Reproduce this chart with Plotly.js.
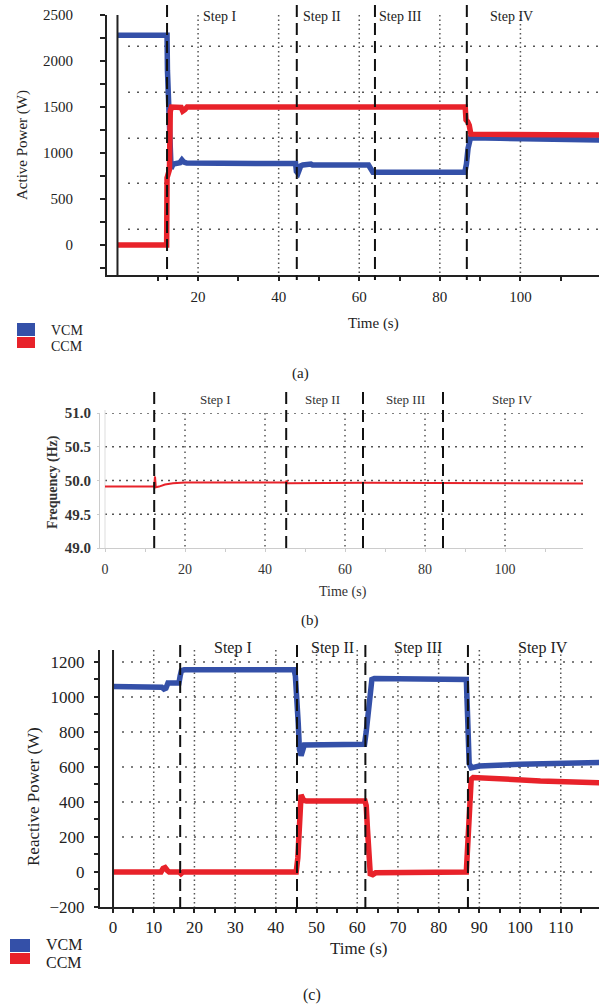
<!DOCTYPE html>
<html>
<head>
<meta charset="utf-8">
<script src="https://cdn.plot.ly/plotly-3.0.1.min.js"></script>
<style>html,body{margin:0;padding:0;background:#fff;}#chart{width:599px;height:1005px;}</style>
</head>
<body>
<div id="chart"></div>
<script>
// ---------- (a) Active power ----------
const aVcmTime = [0, 12.3, 12.4, 12.6, 12.8, 13.0, 13.3, 13.8, 15.5, 16.0, 16.5, 17.2, 44.2, 44.4, 44.8, 45.5, 46.0, 48.0, 48.4, 62.3, 62.8, 63.4, 86.2, 86.6, 87.0, 87.6, 95, 108, 120];
const aVcm     = [2280, 2280, 1900, 1600, 1200, 850, 830, 880, 895, 925, 900, 890, 885, 800, 780, 860, 870, 880, 870, 870, 820, 790, 790, 880, 1050, 1165, 1160, 1145, 1140];
const aCcmTime = [0, 12.2, 12.3, 12.6, 12.9, 13.1, 13.4, 15.8, 16.2, 16.7, 17.3, 86.3, 86.5, 86.9, 87.3, 87.7, 120];
const aCcm     = [0, 0, 730, 760, 820, 1450, 1500, 1495, 1455, 1470, 1500, 1500, 1360, 1340, 1300, 1205, 1195];
const aSteps   = [12.3, 44.5, 63.9, 86.7];
const aStepLabelX = [25.2, 50.7, 70.3, 97.9];
const aGridY   = [2160, 1660, 1160, 670, 170];
const aGridX   = [20, 40, 60, 80, 100];
const aTickY   = [0, 500, 1000, 1500, 2000, 2500];
const aTickX   = [20, 40, 60, 80, 100];

// ---------- (b) Frequency ----------
const bTime = [0, 12.3, 12.5, 12.7, 13.5, 15, 17, 20, 25, 45.2, 45.4, 45.6, 65, 85, 100, 119.5];
const bFreq = [49.91, 49.91, 50.06, 49.9, 49.91, 49.94, 49.96, 49.97, 49.97, 49.97, 50.0, 49.96, 49.965, 49.96, 49.955, 49.955];
const bSteps = [12.3, 45.3, 64.5, 84.5];
const bStepLabelX = [27.5, 54.3, 75.0, 101.8];
const bGridY = [49.5, 50.0, 50.5, 51.0];
const bGridX = [20, 40, 60, 80, 100];
const bTickY = [49.0, 49.5, 50.0, 50.5, 51.0];
const bTickX = [0, 20, 40, 60, 80, 100];

// ---------- (c) Reactive power ----------
const cVcmTime = [0, 11.5, 12, 12.5, 13, 13.5, 16.2, 16.5, 16.8, 17.5, 44.5, 44.8, 45.2, 45.5, 45.8, 46.2, 47, 61.8, 62.2, 62.6, 63.2, 63.6, 64.2, 86.8, 87.1, 87.5, 88, 90, 100, 110, 120];
const cVcm     = [1060, 1060, 1055, 1045, 1050, 1080, 1080, 1120, 1150, 1155, 1155, 1120, 1000, 850, 700, 665, 725, 730, 800, 890, 950, 1100, 1105, 1100, 900, 620, 595, 605, 615, 622, 625];
const cCcmTime = [0, 11.8, 12.3, 12.8, 13.3, 13.8, 16.3, 16.7, 17.2, 45.0, 45.4, 45.8, 46.2, 46.8, 47.5, 61.9, 62.2, 62.5, 62.8, 63.2, 63.8, 64.5, 86.8, 87.2, 87.6, 88.0, 88.5, 95, 105, 120];
const cCcm     = [0, 0, 20, 25, 10, 0, 0, -10, 0, 0, 80, 250, 440, 410, 405, 405, 380, 250, 80, -10, -15, -5, 0, 150, 400, 530, 540, 530, 520, 510];
const cSteps   = [16.5, 45.2, 62.0, 87.2];
const cStepLabelX = [29.5, 53.8, 74.9, 105.7];
const cGridY   = [0, 200, 400, 600, 800, 1000, 1200];
const cGridX   = [10, 20, 30, 40, 50, 60, 70, 80, 90, 100, 110];
const cTickY   = [-200, 0, 200, 400, 600, 800, 1000, 1200];
const cTickX   = [0, 10, 20, 30, 40, 50, 60, 70, 80, 90, 100, 110];

const stepNames = ['Step I', 'Step II', 'Step III', 'Step IV'];
const seriesNames = ['VCM', 'CCM'];

const BLUE = '#3450a8';
const RED = '#e8222a';
const FONT = '"Liberation Serif", "Times New Roman", serif';
const W = 599, H = 1005;
const px = p => p / W;
const py = p => 1 - p / H;

const traces = [
  {x: aVcmTime, y: aVcm, xaxis: 'x', yaxis: 'y', mode: 'lines', line: {color: BLUE, width: 5.5}, name: 'VCM'},
  {x: aCcmTime, y: aCcm, xaxis: 'x', yaxis: 'y', mode: 'lines', line: {color: RED, width: 5.5}, name: 'CCM'},
  {x: bTime, y: bFreq, xaxis: 'x2', yaxis: 'y2', mode: 'lines', line: {color: RED, width: 2}, name: 'f'},
  {x: cVcmTime, y: cVcm, xaxis: 'x3', yaxis: 'y3', mode: 'lines', line: {color: BLUE, width: 5.5}, name: 'VCM'},
  {x: cCcmTime, y: cCcm, xaxis: 'x3', yaxis: 'y3', mode: 'lines', line: {color: RED, width: 5.5}, name: 'CCM'}
];

const shapes = [];
const annotations = [];
const dotH = {color: '#555', width: 1.5, dash: '2px,7px'};
const dotV = {color: '#555', width: 1.5, dash: '1.5px,3px'};
const dashStep = {color: '#111', width: 2, dash: '12px,6px'};

// (a) grid
aGridY.forEach(v => shapes.push({type: 'line', xref: 'paper', yref: 'y', x0: px(128), x1: 1, y0: v, y1: v, line: dotH, layer: 'below'}));
aGridX.forEach(v => shapes.push({type: 'line', xref: 'x', yref: 'paper', x0: v, x1: v, y0: py(15), y1: py(275), line: dotV, layer: 'below'}));
shapes.push({type: 'line', xref: 'x', yref: 'paper', x0: 0, x1: 0, y0: py(15), y1: py(275), line: {color: '#222', width: 2}});
aSteps.forEach(v => shapes.push({type: 'line', xref: 'x', yref: 'paper', x0: v, x1: v, y0: py(5), y1: py(280), line: dashStep}));
stepNames.forEach((s, i) => annotations.push({xref: 'x', yref: 'paper', x: aStepLabelX[i], y: py(17), text: s, showarrow: false, font: {family: FONT, size: 14, color: '#222'}, xanchor: 'center', yanchor: 'middle'}));

// (b) grid
bGridY.forEach(v => shapes.push({type: 'line', xref: 'paper', yref: 'y2', x0: px(105), x1: px(583), y0: v, y1: v, line: {color: '#555', width: 1.5, dash: '2px,5px'}, layer: 'below'}));
bGridX.forEach(v => shapes.push({type: 'line', xref: 'x2', yref: 'paper', x0: v, x1: v, y0: py(413), y1: py(548), line: {color: '#555', width: 1.5, dash: '1.5px,4px'}, layer: 'below'}));
shapes.push({type: 'line', xref: 'x2', yref: 'paper', x0: 0, x1: 0, y0: py(410), y1: py(548), line: {color: '#ddd', width: 1}, layer: 'below'});
bSteps.forEach(v => shapes.push({type: 'line', xref: 'x2', yref: 'paper', x0: v, x1: v, y0: py(392), y1: py(554), line: dashStep}));
stepNames.forEach((s, i) => annotations.push({xref: 'x2', yref: 'paper', x: bStepLabelX[i], y: py(400), text: s, showarrow: false, font: {family: FONT, size: 13, color: '#333'}, xanchor: 'center', yanchor: 'middle'}));

// (c) grid
cGridY.forEach(v => shapes.push({type: 'line', xref: 'paper', yref: 'y3', x0: px(122), x1: 1, y0: v, y1: v, line: {color: '#555', width: 1.5, dash: '2px,7px'}, layer: 'below'}));
cGridX.forEach(v => shapes.push({type: 'line', xref: 'x3', yref: 'paper', x0: v, x1: v, y0: py(650), y1: py(907), line: dotV, layer: 'below'}));
shapes.push({type: 'line', xref: 'x3', yref: 'paper', x0: 0, x1: 0, y0: py(650), y1: py(907), line: {color: '#222', width: 2}});
cSteps.forEach(v => shapes.push({type: 'line', xref: 'x3', yref: 'paper', x0: v, x1: v, y0: py(645), y1: py(915), line: dashStep}));
stepNames.forEach((s, i) => annotations.push({xref: 'x3', yref: 'paper', x: cStepLabelX[i], y: py(648), text: s, showarrow: false, font: {family: FONT, size: 16, color: '#222'}, xanchor: 'center', yanchor: 'middle'}));

// legends (drawn)
function legend(x0, x1, yb0, yb1, yr0, yr1, tx, tyb, tyr, size) {
  shapes.push({type: 'rect', xref: 'paper', yref: 'paper', x0: px(x0), x1: px(x1), y0: py(yb1), y1: py(yb0), fillcolor: BLUE, line: {width: 0}});
  shapes.push({type: 'rect', xref: 'paper', yref: 'paper', x0: px(x0), x1: px(x1), y0: py(yr1), y1: py(yr0), fillcolor: RED, line: {width: 0}});
  annotations.push({xref: 'paper', yref: 'paper', x: px(tx), y: py(tyb), text: seriesNames[0], showarrow: false, xanchor: 'left', yanchor: 'middle', font: {family: FONT, size: size, color: '#222'}});
  annotations.push({xref: 'paper', yref: 'paper', x: px(tx), y: py(tyr), text: seriesNames[1], showarrow: false, xanchor: 'left', yanchor: 'middle', font: {family: FONT, size: size, color: '#222'}});
}
legend(17, 35, 323, 336, 337, 348, 49, 330, 346, 14);
legend(10, 30, 939, 952, 953, 964, 44, 944, 962, 16);

// titles
function txt(x, y, t, size, angle, extra) {
  annotations.push(Object.assign({xref: 'paper', yref: 'paper', x: px(x), y: py(y), text: t, showarrow: false, xanchor: 'center', yanchor: 'middle', textangle: angle || 0, font: {family: FONT, size: size, color: '#222'}}, extra || {}));
}
txt(22, 145, 'Active Power (W)', 15, -90);
txt(373, 323, 'Time (s)', 15);
txt(300, 373, '(a)', 15);
txt(53, 482, '<b>Frequency (Hz)</b>', 14, -90, {font: {family: FONT, size: 14, color: '#333'}});
txt(343, 592, 'Time (s)', 14, 0, {font: {family: FONT, size: 14, color: '#333'}});
txt(310, 620, '(b)', 15);
txt(33, 797, 'Reactive Power (W)', 17, -90);
txt(358, 948, 'Time (s)', 17);
txt(312, 995, '(c)', 16);

const axBase = {showgrid: false, zeroline: false, fixedrange: true};

const layout = {
  width: W, height: H,
  margin: {l: 0, r: 0, t: 0, b: 0},
  paper_bgcolor: '#fff', plot_bgcolor: 'rgba(0,0,0,0)',
  showlegend: false,
  xaxis: Object.assign({}, axBase, {domain: [px(107), 1], range: [-2.6, 119.5], anchor: 'y',
    tickmode: 'array', tickvals: aTickX, ticks: 'outside', ticklen: 4, tickwidth: 2, tickcolor: '#222',
    minor: {tickmode: 'array', tickvals: [10, 30, 50, 70, 90, 110], ticks: 'outside', ticklen: 4, tickwidth: 2, tickcolor: '#222'},
    showline: true, linecolor: '#222', linewidth: 2, ticklabelstandoff: 3,
    tickfont: {family: FONT, size: 15, color: '#222'}}),
  yaxis: Object.assign({}, axBase, {domain: [py(275), py(15)], range: [-326, 2500], anchor: 'x',
    tickmode: 'array', tickvals: aTickY, ticks: 'outside', ticklen: 5, tickwidth: 2, tickcolor: '#222',
    minor: {dtick: 250, tick0: 0, ticks: 'outside', ticklen: 5, tickwidth: 2, tickcolor: '#222'},
    showline: true, linecolor: '#222', linewidth: 2, ticklabelstandoff: 24,
    tickfont: {family: FONT, size: 15, color: '#222'}}),
  xaxis2: Object.assign({}, axBase, {domain: [px(100), px(583)], range: [-1.25, 119.5], anchor: 'y2',
    tickmode: 'array', tickvals: bTickX, ticks: 'outside', ticklen: 3, tickwidth: 1, tickcolor: '#ccc',
    minor: {dtick: 10, tick0: 0, ticks: 'outside', ticklen: 3, tickwidth: 1, tickcolor: '#ccc'},
    showline: true, linecolor: '#ccc', linewidth: 1, ticklabelstandoff: 5,
    tickfont: {family: FONT, size: 14, color: '#333'}}),
  yaxis2: Object.assign({}, axBase, {domain: [py(548), py(413)], range: [49, 51], anchor: 'x2',
    tickmode: 'array', tickvals: bTickY, tickformat: '.1f', ticks: 'outside', ticklen: 2, tickwidth: 1, tickcolor: '#ccc',
    showline: true, linecolor: '#ccc', linewidth: 1, ticklabelstandoff: 3,
    tickfont: {family: FONT, size: 15, color: '#333', weight: 'bold'}}),
  xaxis3: Object.assign({}, axBase, {domain: [px(100), 1], range: [-3.2, 119.4], anchor: 'y3',
    tickmode: 'array', tickvals: cTickX, ticks: 'outside', ticklen: 4, tickwidth: 2, tickcolor: '#222',
    minor: {dtick: 5, tick0: 0, ticks: 'outside', ticklen: 4, tickwidth: 2, tickcolor: '#222'},
    showline: true, linecolor: '#222', linewidth: 2, ticklabelstandoff: 0,
    tickfont: {family: FONT, size: 17, color: '#222'}}),
  yaxis3: Object.assign({}, axBase, {domain: [py(907), py(650)], range: [-200, 1268], anchor: 'x3',
    tickmode: 'array', tickvals: cTickY, ticks: 'outside', ticklen: 4, tickwidth: 2, tickcolor: '#222',
    minor: {dtick: 100, tick0: 0, ticks: 'outside', ticklen: 4, tickwidth: 2, tickcolor: '#222'},
    showline: true, linecolor: '#222', linewidth: 2, ticklabelstandoff: 6,
    tickfont: {family: FONT, size: 17, color: '#222'}}),
  shapes: shapes,
  annotations: annotations
};

Plotly.newPlot('chart', traces, layout, {displayModeBar: false, staticPlot: true});
</script>
</body>
</html>
